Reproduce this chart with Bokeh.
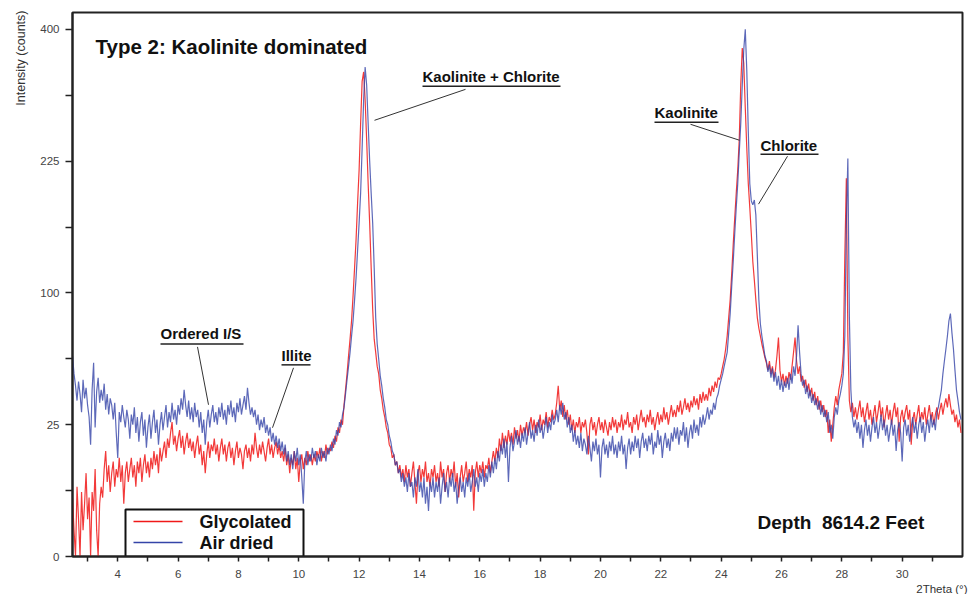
import numpy as np
from bokeh.plotting import figure
from bokeh.models import Range1d, FixedTicker, CustomJSTickFormatter, Label, ColumnDataSource, Title
from bokeh.embed import file_html
from bokeh.resources import INLINE

# ---------------- data (intensity in counts, 2Theta grid start/step) ----------------
start_2theta = 2.5
step_2theta = 0.05

glycolated = [
    5, 1, 0, 7, 2, 0, 6, 1, 4, 10, 2, 5, 0, 6, 3, 11, 1, 0, 4, 7,
    5, 11, 16, 8, 12, 6, 10, 13, 7, 11, 9, 14, 8, 12, 4, 10, 13, 8, 11, 14,
    9, 12, 7, 13, 10, 14, 8, 12, 15, 10, 13, 9, 14, 11, 16, 12, 15, 10, 17, 13,
    16, 19, 14, 20, 17, 22, 26, 18, 21, 16, 20, 23, 17, 21, 15, 19, 22, 17, 20, 16,
    19, 14, 18, 21, 15, 18, 12, 16, 10, 15, 19, 14, 18, 16, 20, 15, 18, 13, 17, 20,
    15, 18, 13, 17, 19, 14, 17, 12, 16, 19, 14, 17, 15, 11, 16, 18, 14, 17, 13, 18,
    15, 22, 17, 14, 18, 15, 19, 16, 13, 17, 20, 15, 18, 14, 17, 19, 15, 18, 14, 16,
    13, 17, 12, 15, 10, 14, 12, 16, 11, 14, 8, 13, 15, 11, 14, 12, 16, 13, 15, 12,
    15, 13, 16, 14, 17, 13, 16, 14, 18, 15, 17, 16, 19, 17, 21, 19, 24, 22, 27, 25,
    33, 40, 48, 58, 68, 80, 98, 120, 145, 180, 215, 270, 325, 338, 300, 250, 200, 160, 120, 88,
    68, 60, 52, 48, 40, 36, 31, 28, 24, 22, 18, 17, 14, 15, 12, 13, 10, 12, 9, 11,
    8, 12, 9, 11, 7, 10, 13, 8, 4, 10, 12, 8, 11, 9, 13, 8, 10, 7, 11, 9,
    12, 8, 10, 7, 13, 9, 11, 6, 10, 12, 8, 11, 9, 13, 7, 10, 5, 9, 12, 8,
    10, 13, 8, 11, 9, 12, 3, 10, 13, 9, 12, 10, 13, 9, 12, 11, 14, 10, 13, 16,
    13, 17, 14, 20, 16, 22, 17, 21, 18, 23, 19, 22, 18, 24, 20, 23, 19, 25, 21, 24,
    22, 26, 21, 25, 28, 23, 27, 22, 26, 24, 29, 23, 27, 25, 30, 24, 28, 26, 31, 27,
    29, 34, 42, 31, 35, 28, 33, 27, 31, 25, 29, 23, 27, 22, 26, 24, 28, 22, 26, 24,
    27, 22, 15, 25, 28, 23, 26, 21, 25, 28, 23, 26, 22, 27, 24, 21, 26, 23, 28, 24,
    27, 22, 26, 24, 29, 23, 27, 25, 30, 24, 26, 22, 28, 25, 29, 23, 27, 31, 26, 28,
    24, 29, 26, 31, 25, 28, 23, 27, 30, 25, 29, 26, 32, 27, 30, 25, 29, 33, 28, 31,
    28, 33, 30, 35, 29, 32, 36, 31, 34, 30, 35, 32, 37, 33, 36, 31, 38, 34, 39, 35,
    38, 35, 41, 37, 42, 39, 44, 41, 46, 45, 48, 52, 56, 62, 70, 82, 95, 115, 140, 165,
    190, 215, 250, 320, 372, 350, 290, 240, 200, 175, 150, 125, 110, 95, 82, 75, 70, 65, 61, 57,
    54, 50, 55, 48, 52, 46, 50, 58, 69, 50, 44, 48, 42, 47, 43, 49, 45, 52, 60, 69,
    55, 48, 52, 44, 47, 41, 45, 39, 43, 37, 41, 35, 39, 33, 37, 31, 35, 30, 33, 28,
    31, 22, 27, 19, 25, 32, 37, 33, 40, 44, 48, 60, 130, 206, 70, 35, 30, 34, 28, 32,
    27, 31, 35, 28, 32, 26, 30, 34, 27, 31, 25, 29, 33, 26, 30, 35, 28, 32, 24, 29,
    33, 27, 31, 25, 30, 34, 28, 32, 19, 28, 31, 26, 30, 33, 27, 31, 18, 27, 30, 25,
    29, 33, 26, 30, 27, 32, 25, 29, 33, 27, 30, 25, 29, 32, 27, 31, 34, 29, 33, 36,
    32, 38, 33, 29, 31, 26, 29, 24, 27, 22,
]

air_dried = [
    58, 48, 42, 35, 44, 38, 30, 45, 36, 41, 33, 28, 18, 40, 54, 24, 39, 46, 34, 40,
    35, 43, 31, 38, 29, 36, 33, 27, 34, 22, 14, 30, 26, 33, 28, 24, 31, 27, 20, 29,
    25, 32, 22, 28, 19, 26, 30, 21, 27, 17, 24, 29, 20, 26, 31, 22, 27, 18, 25, 30,
    23, 28, 33, 24, 30, 26, 34, 27, 31, 25, 33, 29, 36, 31, 40, 33, 28, 35, 27, 32,
    26, 34, 28, 31, 24, 30, 22, 27, 18, 26, 31, 24, 29, 33, 26, 30, 25, 32, 28, 34,
    27, 31, 25, 33, 29, 35, 28, 32, 26, 34, 30, 36, 29, 33, 37, 31, 41, 34, 29, 32,
    28, 31, 25, 29, 23, 27, 24, 28, 22, 25, 21, 24, 19, 22, 18, 21, 17, 20, 16, 19,
    15, 18, 13, 16, 12, 15, 11, 16, 13, 17, 12, 15, 9, 4, 13, 16, 12, 15, 13, 17,
    14, 16, 12, 15, 13, 17, 14, 16, 13, 17, 15, 18, 16, 20, 18, 23, 21, 26, 24, 29,
    32, 38, 45, 52, 60, 70, 80, 95, 112, 135, 160, 190, 240, 300, 345, 320, 270, 225, 190, 160,
    120, 82, 65, 56, 47, 42, 36, 32, 27, 25, 21, 19, 16, 15, 12, 13, 10, 11, 8, 10,
    7, 9, 6, 10, 7, 8, 5, 9, 7, 11, 6, 8, 5, 9, 4, 7, 3, 8, 6, 9,
    5, 8, 6, 9, 4, 7, 10, 6, 8, 5, 9, 7, 10, 6, 8, 4, 7, 9, 6, 8,
    5, 9, 7, 10, 6, 8, 11, 7, 9, 6, 10, 8, 11, 7, 10, 8, 12, 9, 13, 10,
    14, 11, 16, 13, 18, 15, 20, 14, 19, 8, 17, 21, 16, 19, 23, 18, 21, 17, 22, 19,
    24, 18, 22, 26, 20, 23, 19, 25, 21, 27, 22, 25, 20, 24, 28, 22, 26, 23, 29, 25,
    27, 31, 26, 33, 29, 34, 27, 30, 24, 28, 22, 25, 19, 23, 18, 21, 17, 22, 16, 20,
    18, 15, 21, 17, 13, 19, 16, 20, 15, 18, 9, 17, 20, 15, 18, 14, 19, 16, 21, 15,
    18, 14, 19, 16, 21, 15, 18, 11, 17, 20, 15, 19, 16, 21, 17, 20, 14, 19, 22, 17,
    20, 16, 21, 18, 22, 15, 19, 17, 23, 18, 21, 14, 19, 22, 17, 20, 16, 22, 19, 24,
    20, 24, 18, 23, 21, 26, 19, 24, 17, 22, 25, 20, 27, 22, 25, 21, 28, 24, 29, 25,
    28, 32, 27, 31, 29, 34, 31, 36, 38, 42, 45, 48, 52, 56, 60, 72, 85, 105, 125, 150,
    175, 200, 235, 270, 320, 370, 400, 340, 260, 200, 182, 178, 183, 168, 130, 95, 78, 70, 64, 58,
    55, 49, 53, 46, 51, 44, 49, 42, 47, 40, 45, 39, 44, 41, 46, 40, 48, 43, 52, 47,
    58, 77, 60, 48, 42, 45, 38, 42, 36, 40, 34, 38, 33, 36, 31, 35, 29, 33, 28, 31,
    26, 30, 22, 25, 20, 28, 32, 29, 35, 38, 42, 48, 70, 160, 228, 83, 40, 28, 24, 27,
    22, 26, 20, 25, 17, 23, 27, 21, 25, 19, 24, 28, 22, 26, 20, 24, 29, 23, 27, 21,
    25, 19, 23, 27, 21, 25, 16, 23, 26, 22, 13, 24, 27, 21, 25, 19, 24, 28, 22, 26,
    20, 25, 28, 22, 26, 19, 24, 27, 22, 29, 24, 27, 23, 30, 32, 36, 40, 48, 55, 62,
    70, 80, 85, 72, 62, 50, 40, 35, 30, 27,
]

x_major_ticks = [4, 6, 8, 10, 12, 14, 16, 18, 20, 22, 24, 26, 28, 30]
x_minor_ticks = [3, 5, 7, 9, 11, 13, 15, 17, 19, 21, 23, 25, 27, 29, 31]
y_tick_counts = [0, 25, 100, 225, 400]
y_minor_counts = [6.25, 56.25, 156.25, 306.25]

n = min(len(glycolated), len(air_dried))
two_theta = start_2theta + step_2theta * np.arange(n)

# square-root intensity scale: plot sqrt(counts), label ticks in counts
src = ColumnDataSource(dict(
    x=two_theta,
    gly=np.sqrt(np.array(glycolated[:n], dtype=float)),
    air=np.sqrt(np.array(air_dried[:n], dtype=float)),
))

X0, X1 = 2.5, 32.0
Y1 = float(np.sqrt(426.0))
FONT = "Liberation Sans"

p = figure(width=969, height=594, output_backend="svg", toolbar_location=None,
           x_range=Range1d(X0, X1), y_range=Range1d(0, Y1),
           min_border_left=72, min_border_right=7, min_border_top=12, min_border_bottom=37)
p.background_fill_color = "white"
p.border_fill_color = "white"
p.xgrid.visible = False
p.ygrid.visible = False
p.outline_line_color = "#222222"
p.outline_line_width = 2

p.xaxis.ticker = FixedTicker(ticks=x_major_ticks, minor_ticks=x_minor_ticks)
p.yaxis.ticker = FixedTicker(ticks=[float(np.sqrt(v)) for v in y_tick_counts],
                             minor_ticks=[float(np.sqrt(v)) for v in y_minor_counts])
p.yaxis.formatter = CustomJSTickFormatter(code="return String(Math.round(tick*tick));")
for ax in (p.xaxis[0], p.yaxis[0]):
    ax.axis_line_color = "#222222"
    ax.axis_line_width = 2
    ax.major_tick_line_color = "#222222"
    ax.minor_tick_line_color = "#222222"
    ax.major_tick_line_width = 1.5
    ax.minor_tick_line_width = 1.5
    ax.major_tick_in = 0
    ax.minor_tick_in = 0
    ax.major_label_text_font = FONT
    ax.major_label_text_font_size = "11.5px"
    ax.major_label_text_color = "#444444"
p.xaxis.major_tick_out = 5
p.xaxis.minor_tick_out = 5
p.xaxis.major_label_standoff = 8
p.yaxis.major_tick_out = 7
p.yaxis.minor_tick_out = 7
p.yaxis.major_label_standoff = 6

# axis titles placed like the reference (y at top-left, x at bottom-right)
p.add_layout(Title(text="Intensity (counts)", align="right", text_font=FONT,
                   text_font_size="12.5px", text_font_style="normal",
                   text_color="#333333", standoff=20, offset=-2), "left")
p.add_layout(Title(text="2Theta (\u00b0)", align="right", text_font=FONT,
                   text_font_size="11.5px", text_font_style="normal",
                   text_color="#333333", standoff=0, offset=-5), "below")

# data lines
p.line("x", "gly", source=src, line_color="#f01818", line_width=1.2, line_alpha=0.85)
p.line("x", "air", source=src, line_color="#3444a8", line_width=1.2, line_alpha=0.8)

# pixel -> data helpers for annotation placement
def X(px):
    return X0 + (px - 72) * (X1 - X0) / 890.0

def Y(py):
    return (557 - py) * Y1 / 545.0

def add_label(text, px, py, size, bold=True, align="left", color="#111111"):
    p.add_layout(Label(x=X(px), y=Y(py), text=text, text_font=FONT,
                       text_font_size=size, text_font_style="bold" if bold else "normal",
                       text_align=align, text_baseline="middle", text_color=color))

# legend box
p.quad(left=[X(125)], right=[X(303)], bottom=[Y(557)], top=[Y(510)],
       fill_color="white", line_color="#111111", line_width=2)
p.segment(x0=[X(133)], x1=[X(182)], y0=[Y(522)], y1=[Y(522)], line_color="#f01818", line_width=1.5)
p.segment(x0=[X(133)], x1=[X(182)], y0=[Y(543)], y1=[Y(543)], line_color="#3444a8", line_width=1.5)
add_label("Glycolated", 199, 522, "18px")
add_label("Air dried", 199, 543, "18px")

# texts
add_label("Type 2: Kaolinite dominated", 95, 46, "20.5px")
add_label("Depth\u00a0 8614.2 Feet", 757, 523, "19px")
add_label("Kaolinite + Chlorite", 422, 76, "15px")
add_label("Kaolinite", 654, 112, "15px")
add_label("Chlorite", 760, 145, "15px")
add_label("Ordered I/S", 160, 334, "15px")
add_label("Illite", 281, 356, "15px")

# underlines
ul = [(422, 560, 86), (654, 718, 122), (760, 818, 154), (160, 243, 344), (281, 310, 365)]
p.segment(x0=[X(a) for a, b, c in ul], x1=[X(b) for a, b, c in ul],
          y0=[Y(c) for a, b, c in ul], y1=[Y(c) for a, b, c in ul],
          line_color="#222222", line_width=1.5)
# leader lines
ld = [(465, 89, 374, 120), (690, 124, 739, 140), (787, 156, 758, 204),
      (197, 347, 208, 405), (293, 368, 272, 428)]
p.segment(x0=[X(a) for a, b, c, d in ld], y0=[Y(b) for a, b, c, d in ld],
          x1=[X(c) for a, b, c, d in ld], y1=[Y(d) for a, b, c, d in ld],
          line_color="#333333", line_width=1)

open("out.html", "w").write(file_html(p, INLINE))
